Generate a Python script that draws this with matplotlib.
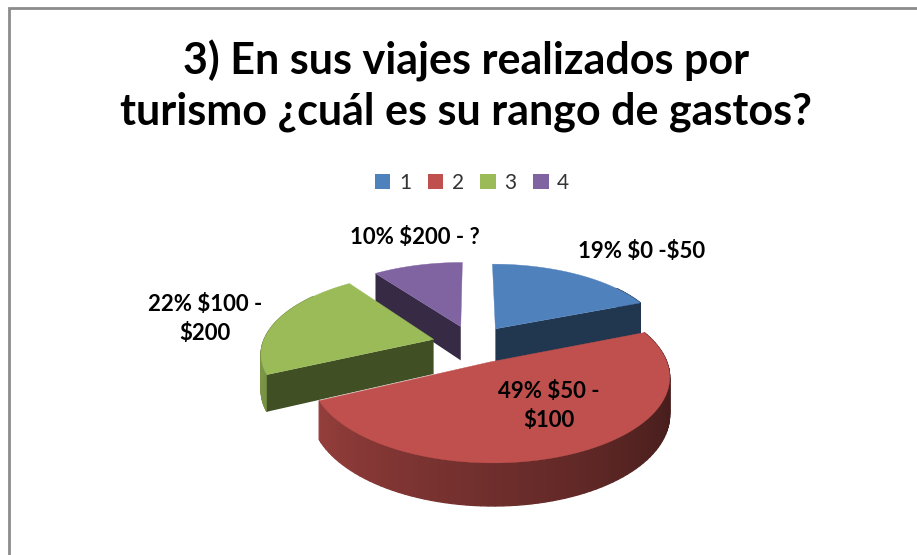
import numpy as np
import matplotlib
matplotlib.use('Agg')
import matplotlib.pyplot as plt
from matplotlib.patches import Patch, Polygon, Rectangle

# Values
categories = ['1', '2', '3', '4']
percents = [19, 49, 22, 10]
ranges = [r'\$0 -\$50', '\\$50 -\n\\$100', '\\$100 -\n\\$200', r'\$200 - ?']
colors = ['#4f81bd', '#c0504d', '#9bbb59', '#8064a2']
title = '3) En sus viajes realizados por\nturismo ¿cuál es su rango de gastos?'

# Pixel geometry of the fake 3D pie
cx, cy = 473, 344
rx, ry = 171, 79
depth = 35
persp = 0.155
explode = 0.24

plt.rcParams['font.family'] = ['Lato', 'DejaVu Sans']


def project(x, y, z=0.0):
    s = 1 / (1 + persp * y)
    return cx + rx * x * s, cy - ry * y * s + depth * z * s


def darken(color, f):
    rgb = np.array(matplotlib.colors.to_rgb(color))
    return tuple(rgb * f)


def wall_shade(theta):
    # light on the left of the pie, dark on the right
    return 0.58 - 0.17 * np.sin(theta) - 0.05 * np.sin(theta) ** 3


fig = plt.figure(figsize=(9.17, 5.55), dpi=100)
ax = fig.add_axes([0, 0, 1, 1])
ax.set_xlim(0, 917)
ax.set_ylim(555, 0)
ax.axis('off')

# Frame, cut by the right and bottom of the picture
ax.add_patch(Rectangle((9, 8), 930, 570, facecolor='white', edgecolor='#8c8c8c', linewidth=2))

# Wedge angles clockwise from the top
fractions = np.array(percents) / sum(percents)
ends = np.cumsum(fractions) * 2 * np.pi
starts = ends - fractions * 2 * np.pi

# Back wedges first, front wedge last
for i in [3, 2, 0, 1]:
    mid = (starts[i] + ends[i]) / 2
    ox, oy = explode * np.sin(mid), explode * np.cos(mid)
    t = np.linspace(starts[i], ends[i], 90)
    arc_x = ox + np.sin(t)
    arc_y = oy + np.cos(t)

    # outer wall, one small piece per step so the shading runs along it
    for j in range(len(t) - 1):
        if np.cos(t[j]) > 0.6:
            continue  # far side, hidden behind the top
        piece = [project(arc_x[j], arc_y[j]), project(arc_x[j + 1], arc_y[j + 1]),
                 project(arc_x[j + 1], arc_y[j + 1], 1), project(arc_x[j], arc_y[j], 1)]
        shade = darken(colors[i], wall_shade(t[j]))
        ax.add_patch(Polygon(piece, facecolor=shade, edgecolor=shade, linewidth=0.9))

    # cut faces, only those turned to the viewer
    for a, normal in [(starts[i], starts[i] - np.pi / 2), (ends[i], ends[i] + np.pi / 2)]:
        if np.cos(normal) > -1e-6:
            continue
        ex, ey = ox + np.sin(a), oy + np.cos(a)
        face = [project(ox, oy), project(ex, ey), project(ex, ey, 1), project(ox, oy, 1)]
        ax.add_patch(Polygon(face, facecolor=darken(colors[i], 0.42), edgecolor='none'))

    top = [project(ox, oy)] + [project(a, b) for a, b in zip(arc_x, arc_y)]
    ax.add_patch(Polygon(top, facecolor=colors[i], edgecolor=colors[i], linewidth=0.3))

# Slice labels
label_pos = [(642, 251), (549, 406), (205, 319), (415, 237)]
for pct, rng, pos in zip(percents, ranges, label_pos):
    ax.text(pos[0], pos[1], f'{pct}% {rng}', ha='center', va='center', fontsize=16,
            fontweight='bold', color='black', linespacing=1.42)

ax.text(466, 86, title, ha='center', va='center', fontsize=31, fontweight='bold',
        color='black', linespacing=1.3)

handles = [Patch(facecolor=c, label=n) for c, n in zip(colors, categories)]
ax.legend(handles=handles, ncol=4, loc='center', bbox_to_anchor=(472 / 917, 1 - 183 / 555),
          frameon=False, fontsize=15, handlelength=0.75, handleheight=0.75,
          handletextpad=0.4, columnspacing=0.8, labelcolor='#333333')

fig.savefig('out.png', dpi=100)
